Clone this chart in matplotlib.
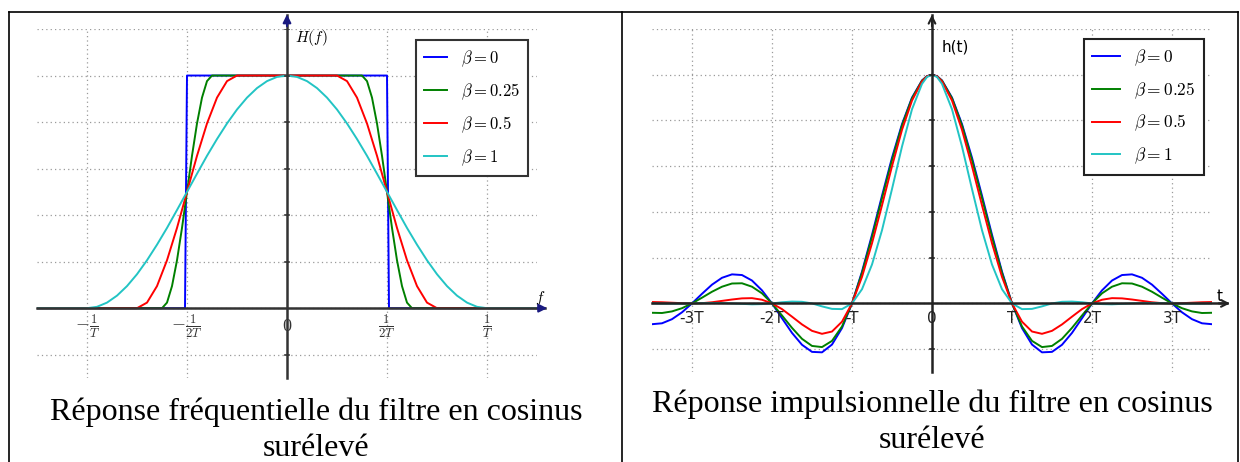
import numpy as np
import matplotlib.pyplot as plt
from matplotlib.lines import Line2D

plt.rcParams['mathtext.fontset'] = 'cm'

labels = [r'$\beta=0$', r'$\beta=0.25$', r'$\beta=0.5$', r'$\beta=1$']
colors = ['#0000ff', '#008000', '#ff0000', '#22c4c4']

# frequency response H(f), f in units of 1/T
f_b0 = [-1.25, -0.51, -0.5, 0.5, 0.51, 1.25]
H_b0 = [0, 0, 1, 1, 0, 0]
f_b025 = [-1.25, -0.625, -0.6, -0.575, -0.55, -0.525, -0.5, -0.475, -0.45, -0.425, -0.4, -0.375,
          0.375, 0.4, 0.425, 0.45, 0.475, 0.5, 0.525, 0.55, 0.575, 0.6, 0.625, 1.25]
H_b025 = [0, 0, 0.024, 0.095, 0.206, 0.345, 0.5, 0.655, 0.794, 0.905, 0.976, 1,
          1, 0.976, 0.905, 0.794, 0.655, 0.5, 0.345, 0.206, 0.095, 0.024, 0, 0]
f_b05 = [-1.25, -0.75, -0.7, -0.65, -0.6, -0.55, -0.5, -0.45, -0.4, -0.35, -0.3, -0.25,
         0.25, 0.3, 0.35, 0.4, 0.45, 0.5, 0.55, 0.6, 0.65, 0.7, 0.75, 1.25]
H_b05 = [0, 0, 0.024, 0.095, 0.206, 0.345, 0.5, 0.655, 0.794, 0.905, 0.976, 1,
         1, 0.976, 0.905, 0.794, 0.655, 0.5, 0.345, 0.206, 0.095, 0.024, 0, 0]
f_b1 = [-1.25, -1.0, -0.95, -0.9, -0.85, -0.8, -0.75, -0.7, -0.65, -0.6, -0.55, -0.5,
        -0.45, -0.4, -0.35, -0.3, -0.25, -0.2, -0.15, -0.1, -0.05, 0,
        0.05, 0.1, 0.15, 0.2, 0.25, 0.3, 0.35, 0.4, 0.45, 0.5,
        0.55, 0.6, 0.65, 0.7, 0.75, 0.8, 0.85, 0.9, 0.95, 1.0, 1.25]
H_b1 = [0, 0, 0.006, 0.024, 0.054, 0.095, 0.146, 0.206, 0.273, 0.345, 0.422, 0.5,
        0.578, 0.655, 0.727, 0.794, 0.854, 0.905, 0.946, 0.976, 0.994, 1,
        0.994, 0.976, 0.946, 0.905, 0.854, 0.794, 0.727, 0.655, 0.578, 0.5,
        0.422, 0.345, 0.273, 0.206, 0.146, 0.095, 0.054, 0.024, 0.006, 0, 0]

# impulse response h(t), t in units of T (right chart), T/8 steps plus T/16 around the peak
t_vals = [-3.5, -3.375, -3.25, -3.125, -3.0, -2.875, -2.75, -2.625, -2.5, -2.375, -2.25, -2.125,
          -2.0, -1.875, -1.75, -1.625, -1.5, -1.375, -1.25, -1.125, -1.0, -0.875, -0.75, -0.625,
          -0.5, -0.375, -0.25, -0.125, -0.0625, 0,
          0.0625, 0.125, 0.25, 0.375, 0.5, 0.625, 0.75, 0.875, 1.0, 1.125, 1.25, 1.375, 1.5,
          1.625, 1.75, 1.875, 2.0, 2.125, 2.25, 2.375, 2.5, 2.625, 2.75, 2.875, 3.0, 3.125,
          3.25, 3.375, 3.5]
h_b0 = [-0.091, -0.087, -0.069, -0.039, 0, 0.042, 0.082, 0.112, 0.127, 0.124, 0.100, 0.057, 0,
        -0.065, -0.129, -0.181, -0.212, -0.214, -0.180, -0.108, 0, 0.139, 0.300, 0.471, 0.637,
        0.784, 0.900, 0.975, 0.994, 1,
        0.994, 0.975, 0.900, 0.784, 0.637, 0.471, 0.300, 0.139, 0, -0.108, -0.180, -0.214, -0.212,
        -0.181, -0.129, -0.065, 0, 0.057, 0.100, 0.124, 0.127, 0.112, 0.082, 0.042, 0,
        -0.039, -0.069, -0.087, -0.091]
h_b025 = [-0.041, -0.042, -0.035, -0.021, 0, 0.025, 0.051, 0.073, 0.087, 0.088, 0.073, 0.044, 0,
          -0.053, -0.107, -0.155, -0.186, -0.191, -0.164, -0.101, 0, 0.133, 0.290, 0.460, 0.627,
          0.778, 0.897, 0.974, 0.993, 1,
          0.993, 0.974, 0.897, 0.778, 0.627, 0.460, 0.290, 0.133, 0, -0.101, -0.164, -0.191, -0.186,
          -0.155, -0.107, -0.053, 0, 0.044, 0.073, 0.088, 0.087, 0.073, 0.051, 0.025, 0,
          -0.021, -0.035, -0.042, -0.041]
h_b05 = [0.006, 0.005, 0.003, 0.001, 0, 0.001, 0.005, 0.011, 0.017, 0.022, 0.023, 0.016, 0,
         -0.025, -0.058, -0.092, -0.120, -0.133, -0.123, -0.080, 0, 0.116, 0.263, 0.429, 0.600,
         0.759, 0.887, 0.971, 0.993, 1,
         0.993, 0.971, 0.887, 0.759, 0.600, 0.429, 0.263, 0.116, 0, -0.080, -0.123, -0.133, -0.120,
         -0.092, -0.058, -0.025, 0, 0.016, 0.023, 0.022, 0.017, 0.011, 0.005, 0.001, 0,
         0.001, 0.003, 0.005, 0.006]
h_b1 = [0, -0.001, -0.001, -0.001, 0, 0.001, 0.002, 0.002, 0, -0.002, -0.004, -0.003, 0,
        0.005, 0.008, 0.007, 0, -0.013, -0.024, -0.025, 0, 0.062, 0.170, 0.320, 0.500,
        0.686, 0.849, 0.960, 0.990, 1,
        0.990, 0.960, 0.849, 0.686, 0.500, 0.320, 0.170, 0.062, 0, -0.025, -0.024, -0.013, 0,
        0.007, 0.008, 0.005, 0, -0.003, -0.004, -0.002, 0, 0.002, 0.002, 0.001, 0,
        -0.001, -0.001, -0.001, 0]

f_ticks = [-1, -0.5, 0, 0.5, 1]
f_ticklabels = [r'$-\frac{1}{T}$', r'$-\frac{1}{2T}$', r'$0$', r'$\frac{1}{2T}$', r'$\frac{1}{T}$']
t_ticks = [-3, -2, -1, 0, 1, 2, 3]
t_ticklabels = ['-3T', '-2T', '-T', '0', 'T', '2T', '3T']
y_grid = [-0.2, 0, 0.2, 0.4, 0.6, 0.8, 1.0, 1.2]

W, H = 1240, 462
fig = plt.figure(figsize=(W / 100, H / 100), dpi=100)


def px(x, y):
    return x / W, 1 - y / H


def setup(ax, xlim, xticks, axis_color, arrow_style, head_color, x_end, tick_len):
    ax.set_xlim(xlim)
    ax.set_ylim(-0.3, 1.2)
    ax.axis('off')
    for v in xticks:
        if v != 0:
            ax.axvline(v, color='#9a9a9a', lw=0.9, ls=(0, (1, 2.5)), zorder=0)
    for v in y_grid:
        ax.axhline(v, color='#9a9a9a', lw=0.9, ls=(0, (1, 2.5)), zorder=0)
    # axes through the origin
    ax.plot([xlim[0], x_end], [0, 0], color=axis_color, lw=1.8, zorder=5, clip_on=False)
    ax.plot([0, 0], [-0.3, 1.26], color=axis_color, lw=1.8, zorder=5, clip_on=False)
    span = xlim[1] - xlim[0]
    ax.annotate('', xy=(x_end + 0.01 * span, 0), xytext=(x_end - 0.02 * span, 0),
                arrowprops=dict(arrowstyle=arrow_style, color=head_color, lw=1.5, mutation_scale=12),
                annotation_clip=False, zorder=6)
    ax.annotate('', xy=(0, 1.275), xytext=(0, 1.2),
                arrowprops=dict(arrowstyle=arrow_style, color=head_color, lw=1.5, mutation_scale=12),
                annotation_clip=False, zorder=6)
    # small tick marks on the vertical axis
    for v in y_grid:
        if v != 0:
            ax.plot([-tick_len, tick_len], [v, v], color=axis_color, lw=1.2, zorder=5)


ax1 = fig.add_axes([37 / W, 84 / H, 500 / W, 349 / H])
setup(ax1, (-1.25, 1.25), f_ticks, '#333333', '-|>', '#1a1a80', 1.29, 0.012)
for f, Hf, c, lab in zip([f_b0, f_b025, f_b05, f_b1], [H_b0, H_b025, H_b05, H_b1], colors, labels):
    ax1.plot(f, Hf, color=c, lw=1.4, label=lab, zorder=3)
for v, s in zip(f_ticks, f_ticklabels):
    ax1.text(v, -0.078, s, ha='center', va='center', fontsize=13, color='#333333', zorder=7)
ax1.text(0.04, 1.16, r'$H(f)$', fontsize=11, ha='left', va='center')
ax1.text(1.265, 0.045, r'$f$', fontsize=11, ha='center', va='center')
leg1 = ax1.legend(loc='upper right', bbox_to_anchor=px(528, 40), bbox_transform=fig.transFigure,
                  fontsize=12, handlelength=1.4, handletextpad=0.8, labelspacing=0.75,
                  borderpad=0.5, borderaxespad=0, fancybox=False, framealpha=1,
                  edgecolor='#333333')
leg1.get_frame().set_linewidth(1.5)

ax2 = fig.add_axes([652 / W, 90 / H, 560 / W, 343 / H])
setup(ax2, (-3.5, 3.5), t_ticks, '#222222', '->', '#222222', 3.69, 0.03)
for h, c, lab in zip([h_b0, h_b025, h_b05, h_b1], colors, labels):
    ax2.plot(t_vals, h, color=c, lw=1.4, label=lab, zorder=3)
for v, s in zip(t_ticks, t_ticklabels):
    ax2.text(v, -0.065, s, ha='center', va='center', fontsize=11, color='#222222', zorder=7)
ax2.text(0.12, 1.12, 'h(t)', fontsize=11, ha='left', va='center')
ax2.text(3.6, 0.03, 't', fontsize=11, ha='center', va='center')
leg2 = ax2.legend(loc='upper right', bbox_to_anchor=px(1204, 39), bbox_transform=fig.transFigure,
                  fontsize=12.5, handlelength=1.6, handletextpad=0.8, labelspacing=0.7,
                  borderpad=0.5, borderaxespad=0, fancybox=False, framealpha=1,
                  edgecolor='#222222')
leg2.get_frame().set_linewidth(1.5)

# table borders
for (x0, y0), (x1, y1) in [((9, 12), (1238, 12)), ((9, 12), (9, 462)), ((622, 12), (622, 462)),
                           ((1238, 12), (1238, 462))]:
    a, b = px(x0, y0)
    c, d = px(x1, y1)
    fig.add_artist(Line2D([a, c], [b, d], color='black', lw=1.2, transform=fig.transFigure))

cap = dict(ha='center', va='center', fontfamily='Liberation Serif', fontsize=23)
fig.text(*px(316, 412), 'Réponse fréquentielle du filtre en cosinus', **cap)
fig.text(*px(316, 448), 'surélevé', **cap)
fig.text(*px(932, 404), 'Réponse impulsionnelle du filtre en cosinus', **cap)
fig.text(*px(932, 440), 'surélevé', **cap)

fig.savefig('out.png', dpi=100)
